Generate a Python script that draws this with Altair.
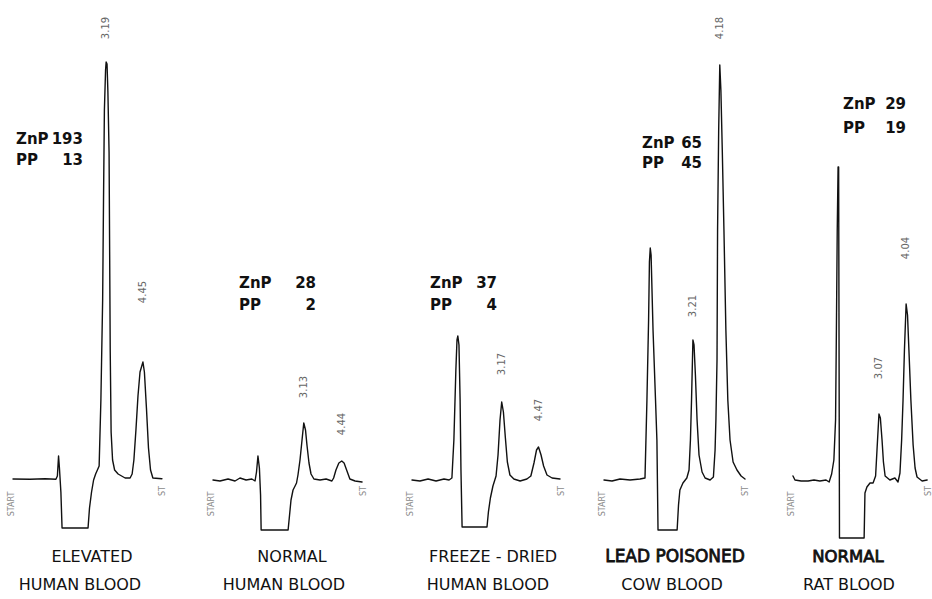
import altair as alt
import pandas as pd

# ---------------------------------------------------------------------------
# Five HPLC porphyrin runs: retention time (min) vs detector response
# (% of full scale).  Each run: injection artefact, solvent dip, then the
# zinc protoporphyrin (ZnP, ~3.1-3.2 min) and protoporphyrin (PP, ~4.0-4.5 min)
# ---------------------------------------------------------------------------
elev_t = [0, 0.58, 1.10, 1.47, 1.52, 1.56, 1.59, 1.64, 1.68, 2.12, 2.57, 2.62, 2.69,
          2.76, 2.83, 2.89, 2.95, 3.01, 3.07, 3.10, 3.13, 3.17, 3.19, 3.22, 3.25, 3.29,
          3.31, 3.33, 3.36, 3.41, 3.48, 3.60, 3.84, 4.01, 4.08, 4.14, 4.21, 4.28, 4.35,
          4.45, 4.50, 4.57, 4.64, 4.71, 4.79, 5.10]
elev_r = [0.25, 0.2, 0.3, 0.2, 1, 6, 3, -3, -12, -12, -12, -7, -3,
          0, 1.5, 2.5, 3.5, 20, 45, 70, 92.5, 102.5, 104.5, 104, 97, 82,
          57, 32, 12, 5, 2.5, 1.5, 0.5, 0.5, 1.5, 5, 12.5, 21, 27,
          29.5, 27, 18, 8, 2.5, 0.5, 0.3]

human_t = [0, 0.24, 0.52, 0.76, 0.93, 1.14, 1.34, 1.45, 1.50, 1.55, 1.60, 1.64, 1.66,
           2.14, 2.59, 2.64, 2.69, 2.76, 2.83, 2.88, 2.93, 3.00, 3.07, 3.13, 3.19, 3.24,
           3.31, 3.38, 3.48, 3.69, 3.90, 4.10, 4.16, 4.24, 4.34, 4.44, 4.52, 4.62, 4.72,
           4.90, 5.14]
human_r = [0, -0.25, 0.25, -0.25, 0.5, 0, 0.25, -0.25, 2, 6, 3, -3.75, -12.5,
           -12.5, -12.5, -8.75, -5, -2.5, -1.5, -0.75, 1.25, 5, 10, 14.25, 12.5, 8.75,
           4.25, 1.5, 0.25, 0, 0.25, -0.25, 0.5, 2.5, 4.25, 4.75, 4.25, 2.25, 0.25,
           -0.25, -0.5]

dried_t = [0, 0.28, 0.57, 0.85, 1.13, 1.31, 1.41, 1.48, 1.55, 1.59, 1.62, 1.66, 1.70,
           1.73, 1.77, 2.23, 2.65, 2.70, 2.77, 2.86, 2.97, 3.04, 3.11, 3.17, 3.23, 3.30,
           3.37, 3.46, 3.60, 3.82, 4.06, 4.20, 4.31, 4.40, 4.47, 4.56, 4.65, 4.77, 4.95,
           5.23]
dried_r = [0, -0.25, 0.25, -0.25, 0.25, 0, 0.5, 10, 27.5, 35, 36, 33.75, 20,
           2.5, -11.75, -11.75, -11.75, -8, -4.5, -1.5, 1, 6.25, 15, 19.5, 17, 10.5,
           4.5, 1.25, 0.25, -0.25, 0.25, 1, 4.25, 7.5, 8.25, 6.25, 3.5, 1.25, 0.5,
           0.25]

cow_t = [0, 0.29, 0.58, 0.94, 1.30, 1.48, 1.55, 1.61, 1.64, 1.67, 1.70, 1.77, 1.86,
         1.91, 1.95, 2.31, 2.64, 2.69, 2.74, 2.85, 2.99, 3.07, 3.12, 3.16, 3.21, 3.25,
         3.30, 3.36, 3.43, 3.54, 3.65, 3.83, 3.95, 4.01, 4.04, 4.08, 4.10, 4.14, 4.18,
         4.22, 4.27, 4.33, 4.40, 4.47, 4.55, 4.66, 4.80, 4.95, 5.09]
cow_r = [0, -0.25, 0.25, 0, 0.25, 0.5, 20, 40, 54.5, 58, 56.25, 37.5, 20,
         10, -12.5, -12.5, -12.5, -6.25, -2.5, -0.75, 0.5, 2.5, 10, 20, 35, 33.75,
         26.25, 15, 6.25, 2, 0.5, 0, 0.75, 7.5, 15, 30, 62.5, 87.5, 103.75,
         97.5, 82.5, 62.5, 37.5, 20, 10, 4.5, 2.5, 1, 0.25]

rat_t = [0, 0.07, 0.29, 0.54, 0.75, 0.96, 1.18, 1.29, 1.38, 1.46, 1.52, 1.55, 1.58,
         1.61, 1.63, 1.66, 2.11, 2.54, 2.57, 2.64, 2.75, 2.86, 2.95, 3.00, 3.07, 3.12,
         3.18, 3.23, 3.29, 3.46, 3.64, 3.75, 3.82, 3.88, 3.93, 3.98, 4.04, 4.09, 4.14,
         4.21, 4.29, 4.36, 4.43, 4.61, 4.79]
rat_r = [1, 0, -0.25, -0.25, 0, -0.25, 0, -0.5, 1.5, 5, 15, 37.5, 62.5,
         78.25, 78.25, -14.5, -14.5, -14.5, -3.25, -1.75, -0.75, -0.75, 1, 7.5, 16.5, 15.5,
         10, 4.5, 1, 0, 0.5, -0.5, 1.75, 10, 20, 32.5, 44, 41.25, 32.5,
         20, 8.75, 3, 0.75, -0.25, 0]

run_t = [elev_t, human_t, dried_t, cow_t, rat_t]
run_r = [elev_r, human_r, dried_r, cow_r, rat_r]

# retention times printed by the integrator above each porphyrin peak
peak_rt = [[3.19, 4.45], [3.13, 4.44], [3.17, 4.47], [3.21, 4.18], [3.07, 4.04]]

# quantitation (ug/dl) for each run
znp = [193, 28, 37, 65, 29]
pp = [13, 2, 4, 45, 19]

caption_1 = ["ELEVATED", "NORMAL", "FREEZE - DRIED", "LEAD POISONED", "NORMAL"]
caption_2 = ["HUMAN BLOOD", "HUMAN BLOOD", "HUMAN BLOOD", "COW BLOOD", "RAT BLOOD"]

# ---------------------------------------------------------------------------
# Page layout (pixels)
# ---------------------------------------------------------------------------
W, H = 932, 599
inject_px = [13, 213, 412, 604, 793]        # where t = 0 of each strip lands
px_per_min = [29.2, 29.0, 28.3, 27.7, 28.0]  # chart speed of each strip
Y_TOP, Y_BOTTOM = 120.0, -29.75              # response covered by page height

rt_label_py = [[28, 292], [387, 424], [364, 410], [306, 28], [368, 248]]
amount_box = [(16, 83, 139, 160), (239, 316, 283, 305), (430, 497, 283, 305),
              (642, 702, 143, 163), (843, 906, 104, 128)]
caption_px = [(92, 80), (292, 284), (493, 488), (675, 672), (848, 849)]
# (font size, extra stroke for the heavier lettering)
caption_1_style = [(16, 0), (16, 0), (16, 0), (17, 0.8), (16.5, 0.8)]
CAPTION_PY = (557, 585)
FONT = "DejaVu Sans"
INK = "#111111"


def resp(py):
    """Page y (px) -> detector response in the shared y scale."""
    return Y_TOP - (Y_TOP - Y_BOTTOM) * py / H


def strip(i):
    s, v = inject_px[i], px_per_min[i]
    minutes = lambda px: (px - s) / v
    xs = alt.Scale(domain=[minutes(0), minutes(W)], nice=False, zero=False)
    ys = alt.Scale(domain=[Y_BOTTOM, Y_TOP], nice=False, zero=False)
    X = alt.X("t:Q", scale=xs, axis=None)
    Y = alt.Y("r:Q", scale=ys, axis=None)

    trace_df = pd.DataFrame({"t": run_t[i], "r": run_r[i], "i": range(len(run_t[i]))})
    trace = alt.Chart(trace_df).mark_line(
        color=INK, strokeWidth=1.4, strokeJoin="round", strokeCap="round"
    ).encode(x=X, y=Y, order="i:Q")

    rt_df = pd.DataFrame({
        "t": peak_rt[i],
        "r": [resp(p) for p in rt_label_py[i]],
        "label": [f"{v_:.2f}" for v_ in peak_rt[i]],
    })
    rt_text = alt.Chart(rt_df).mark_text(
        angle=270, font=FONT, fontSize=10, color="#666666", baseline="middle", align="center"
    ).encode(x=X, y=Y, text="label:N")

    # START / ST pen marks at both ends of the strip
    ends_df = pd.DataFrame({
        "t": [minutes(s - 1), run_t[i][-1] + 1.5 / v],
        "r": [resp(504), resp(491)],
        "label": ["START", "ST"],
    })
    ends = alt.Chart(ends_df).mark_text(
        angle=270, font=FONT, fontSize=8, color="#8a8a8a", baseline="middle", align="center"
    ).encode(x=X, y=Y, text="label:N")

    left, right, py1, py2 = amount_box[i]
    names_df = pd.DataFrame({"t": [minutes(left)] * 2, "r": [resp(py1), resp(py2)],
                             "label": ["ZnP", "PP"]})
    vals_df = pd.DataFrame({"t": [minutes(right)] * 2, "r": [resp(py1), resp(py2)],
                            "label": [str(znp[i]), str(pp[i])]})
    names = alt.Chart(names_df).mark_text(
        font=FONT, fontSize=15, fontWeight="bold", color=INK, align="left", baseline="middle"
    ).encode(x=X, y=Y, text="label:N")
    vals = alt.Chart(vals_df).mark_text(
        font=FONT, fontSize=15, fontWeight="bold", color=INK, align="right", baseline="middle"
    ).encode(x=X, y=Y, text="label:N")

    c1x, c2x = caption_px[i]
    size1, heavy = caption_1_style[i]
    cap1_mark = dict(font=FONT, fontSize=size1, color=INK, align="center", baseline="middle")
    if heavy:
        cap1_mark.update(stroke=INK, strokeWidth=heavy)
    cap1 = alt.Chart(pd.DataFrame({"t": [minutes(c1x)], "r": [resp(CAPTION_PY[0])],
                                   "label": [caption_1[i]]})).mark_text(
        **cap1_mark
    ).encode(x=X, y=Y, text="label:N")
    cap2 = alt.Chart(pd.DataFrame({"t": [minutes(c2x)], "r": [resp(CAPTION_PY[1])],
                                   "label": [caption_2[i]]})).mark_text(
        font=FONT, fontSize=16, color=INK, align="center", baseline="middle"
    ).encode(x=X, y=Y, text="label:N")

    return alt.layer(trace, rt_text, ends, names, vals, cap1, cap2)


chart = (
    alt.layer(*[strip(i) for i in range(5)])
    .resolve_scale(x="independent")
    .properties(width=W, height=H, autosize="none", padding=0, background="white")
    .configure_view(stroke=None)
)

chart.save("out.html", embed_options={"renderer": "svg", "actions": False})
